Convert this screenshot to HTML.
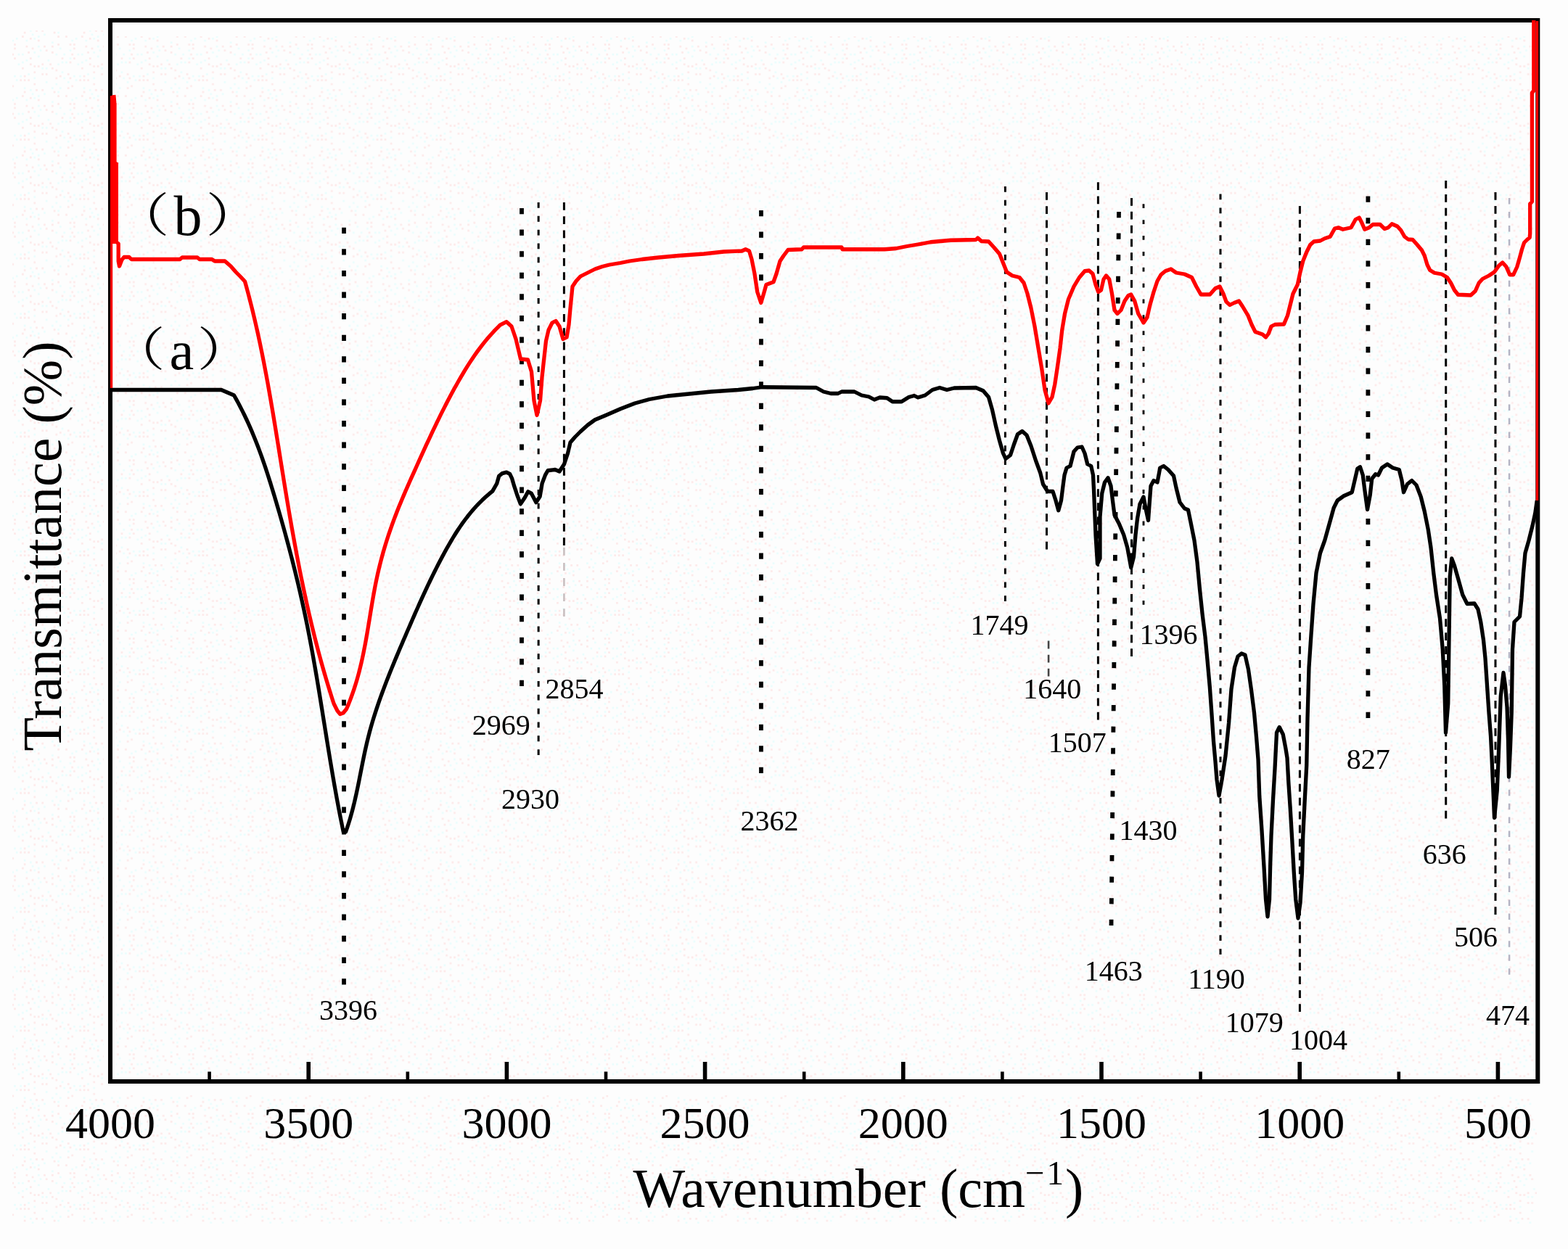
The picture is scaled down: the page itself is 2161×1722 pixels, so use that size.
<!DOCTYPE html>
<html lang="en"><head><meta charset="utf-8"><title>FTIR spectra</title>
<style>
html,body{margin:0;padding:0;background:#fdfdfd;}
body{width:2161px;height:1722px;overflow:hidden;}
svg{display:block;font-family:"Liberation Serif","Noto Serif CJK SC",serif;fill:#000;}
.pk{font-size:40px;text-anchor:middle;}
.tk{font-size:62px;text-anchor:middle;}
.ax{font-size:76px;text-anchor:middle;}
.lb{font-size:76px;}
</style></head><body>
<svg width="2161" height="1722" viewBox="0 0 2161 1722">
<rect x="0" y="0" width="2161" height="1722" fill="#fdfdfd"/>
<defs><pattern id="dz" width="81.90" height="81.90" patternUnits="userSpaceOnUse"><rect x="40.95" y="40.95" width="2.73" height="2.73" fill="#e9fdfd"/><rect x="49.14" y="40.95" width="2.73" height="2.73" fill="#fde9e9"/><rect x="76.44" y="73.71" width="2.73" height="2.73" fill="#e9fdfd"/><rect x="76.44" y="24.57" width="2.73" height="2.73" fill="#fde9e9"/><rect x="40.95" y="79.17" width="2.73" height="2.73" fill="#fde9e9"/><rect x="0.00" y="65.52" width="2.73" height="2.73" fill="#e9fdfd"/><rect x="79.17" y="43.68" width="2.73" height="2.73" fill="#e9fdfd"/><rect x="16.38" y="73.71" width="2.73" height="2.73" fill="#fde9e9"/><rect x="46.41" y="32.76" width="2.73" height="2.73" fill="#fde9e9"/><rect x="13.65" y="68.25" width="2.73" height="2.73" fill="#e9fdfd"/><rect x="46.41" y="51.87" width="2.73" height="2.73" fill="#e9fdfd"/><rect x="60.06" y="46.41" width="2.73" height="2.73" fill="#e9fdfd"/><rect x="68.25" y="5.46" width="2.73" height="2.73" fill="#fde9e9"/><rect x="10.92" y="38.22" width="2.73" height="2.73" fill="#fde9e9"/><rect x="5.46" y="24.57" width="2.73" height="2.73" fill="#e9fdfd"/><rect x="62.79" y="30.03" width="2.73" height="2.73" fill="#e9fdfd"/><rect x="16.38" y="54.60" width="2.73" height="2.73" fill="#e9fdfd"/><rect x="70.98" y="70.98" width="2.73" height="2.73" fill="#fde9e9"/><rect x="13.65" y="24.57" width="2.73" height="2.73" fill="#fde9e9"/><rect x="24.57" y="5.46" width="2.73" height="2.73" fill="#e9fdfd"/><rect x="62.79" y="68.25" width="2.73" height="2.73" fill="#fde9e9"/><rect x="35.49" y="62.79" width="2.73" height="2.73" fill="#fde9e9"/><rect x="51.87" y="62.79" width="2.73" height="2.73" fill="#e9fdfd"/><rect x="46.41" y="16.38" width="2.73" height="2.73" fill="#fde9e9"/><rect x="27.30" y="21.84" width="2.73" height="2.73" fill="#e9fdfd"/><rect x="5.46" y="73.71" width="2.73" height="2.73" fill="#e9fdfd"/><rect x="76.44" y="32.76" width="2.73" height="2.73" fill="#e9fdfd"/><rect x="21.84" y="51.87" width="2.73" height="2.73" fill="#e9fdfd"/><rect x="51.87" y="8.19" width="2.73" height="2.73" fill="#fde9e9"/><rect x="57.33" y="10.92" width="2.73" height="2.73" fill="#e9fdfd"/><rect x="79.17" y="49.14" width="2.73" height="2.73" fill="#fde9e9"/><rect x="43.68" y="65.52" width="2.73" height="2.73" fill="#fde9e9"/><rect x="79.17" y="5.46" width="2.73" height="2.73" fill="#e9fdfd"/><rect x="38.22" y="70.98" width="2.73" height="2.73" fill="#fde9e9"/><rect x="35.49" y="54.60" width="2.73" height="2.73" fill="#e9fdfd"/><rect x="10.92" y="30.03" width="2.73" height="2.73" fill="#e9fdfd"/><rect x="62.79" y="10.92" width="2.73" height="2.73" fill="#e9fdfd"/><rect x="70.98" y="57.33" width="2.73" height="2.73" fill="#e9fdfd"/><rect x="19.11" y="65.52" width="2.73" height="2.73" fill="#fde9e9"/><rect x="13.65" y="79.17" width="2.73" height="2.73" fill="#e9fdfd"/><rect x="32.76" y="43.68" width="2.73" height="2.73" fill="#fde9e9"/><rect x="70.98" y="10.92" width="2.73" height="2.73" fill="#fde9e9"/><rect x="70.98" y="38.22" width="2.73" height="2.73" fill="#e9fdfd"/><rect x="57.33" y="40.95" width="2.73" height="2.73" fill="#fde9e9"/><rect x="32.76" y="21.84" width="2.73" height="2.73" fill="#fde9e9"/><rect x="38.22" y="19.11" width="2.73" height="2.73" fill="#e9fdfd"/><rect x="10.92" y="19.11" width="2.73" height="2.73" fill="#fde9e9"/><rect x="24.57" y="73.71" width="2.73" height="2.73" fill="#e9fdfd"/><rect x="43.68" y="46.41" width="2.73" height="2.73" fill="#e9fdfd"/><rect x="70.98" y="62.79" width="2.73" height="2.73" fill="#fde9e9"/><rect x="27.30" y="27.30" width="2.73" height="2.73" fill="#fde9e9"/><rect x="30.03" y="73.71" width="2.73" height="2.73" fill="#e9fdfd"/><rect x="0.00" y="21.84" width="2.73" height="2.73" fill="#fde9e9"/><rect x="65.52" y="0.00" width="2.73" height="2.73" fill="#e9fdfd"/><rect x="21.84" y="27.30" width="2.73" height="2.73" fill="#e9fdfd"/><rect x="57.33" y="19.11" width="2.73" height="2.73" fill="#fde9e9"/><rect x="8.19" y="49.14" width="2.73" height="2.73" fill="#fde9e9"/><rect x="2.73" y="2.73" width="2.73" height="2.73" fill="#e9fdfd"/><rect x="19.11" y="79.17" width="2.73" height="2.73" fill="#fde9e9"/><rect x="57.33" y="5.46" width="2.73" height="2.73" fill="#fde9e9"/><rect x="35.49" y="0.00" width="2.73" height="2.73" fill="#e9fdfd"/><rect x="0.00" y="38.22" width="2.73" height="2.73" fill="#e9fdfd"/><rect x="13.65" y="2.73" width="2.73" height="2.73" fill="#fde9e9"/><rect x="19.11" y="60.06" width="2.73" height="2.73" fill="#fde9e9"/><rect x="40.95" y="5.46" width="2.73" height="2.73" fill="#fde9e9"/><rect x="30.03" y="10.92" width="2.73" height="2.73" fill="#fde9e9"/><rect x="73.71" y="43.68" width="2.73" height="2.73" fill="#fde9e9"/><rect x="32.76" y="38.22" width="2.73" height="2.73" fill="#e9fdfd"/><rect x="19.11" y="21.84" width="2.73" height="2.73" fill="#e9fdfd"/><rect x="30.03" y="49.14" width="2.73" height="2.73" fill="#fde9e9"/><rect x="76.44" y="13.65" width="2.73" height="2.73" fill="#fde9e9"/><rect x="62.79" y="19.11" width="2.73" height="2.73" fill="#fde9e9"/><rect x="51.87" y="54.60" width="2.73" height="2.73" fill="#fde9e9"/><rect x="30.03" y="2.73" width="2.73" height="2.73" fill="#e9fdfd"/><rect x="16.38" y="35.49" width="2.73" height="2.73" fill="#fde9e9"/><rect x="40.95" y="51.87" width="2.73" height="2.73" fill="#fde9e9"/><rect x="46.41" y="8.19" width="2.73" height="2.73" fill="#fde9e9"/><rect x="54.60" y="68.25" width="2.73" height="2.73" fill="#e9fdfd"/><rect x="38.22" y="27.30" width="2.73" height="2.73" fill="#fde9e9"/><rect x="13.65" y="60.06" width="2.73" height="2.73" fill="#fde9e9"/><rect x="32.76" y="27.30" width="2.73" height="2.73" fill="#fde9e9"/><rect x="46.41" y="70.98" width="2.73" height="2.73" fill="#e9fdfd"/><rect x="79.17" y="60.06" width="2.73" height="2.73" fill="#fde9e9"/><rect x="2.73" y="16.38" width="2.73" height="2.73" fill="#e9fdfd"/><rect x="46.41" y="24.57" width="2.73" height="2.73" fill="#e9fdfd"/><rect x="51.87" y="76.44" width="2.73" height="2.73" fill="#e9fdfd"/><rect x="2.73" y="79.17" width="2.73" height="2.73" fill="#fde9e9"/><rect x="8.19" y="2.73" width="2.73" height="2.73" fill="#e9fdfd"/><rect x="60.06" y="62.79" width="2.73" height="2.73" fill="#fde9e9"/><rect x="51.87" y="49.14" width="2.73" height="2.73" fill="#e9fdfd"/></pattern></defs>
<path d="M17 42H143V1687H17ZM160 50H2114V1485H160ZM143 1510H2118V1687H143Z" fill="url(#dz)"/>
<g fill="none" stroke="#000">
<rect x="152" y="28" width="1967.3" height="1463" stroke-width="6"/>
<line x1="152.0" y1="1464" x2="152.0" y2="1489" stroke-width="5.6"/>
<line x1="288.6" y1="1477.5" x2="288.6" y2="1489" stroke-width="4.6"/>
<line x1="425.2" y1="1464" x2="425.2" y2="1489" stroke-width="5.6"/>
<line x1="561.8" y1="1477.5" x2="561.8" y2="1489" stroke-width="4.6"/>
<line x1="698.4" y1="1464" x2="698.4" y2="1489" stroke-width="5.6"/>
<line x1="835.0" y1="1477.5" x2="835.0" y2="1489" stroke-width="4.6"/>
<line x1="971.6" y1="1464" x2="971.6" y2="1489" stroke-width="5.6"/>
<line x1="1108.2" y1="1477.5" x2="1108.2" y2="1489" stroke-width="4.6"/>
<line x1="1244.8" y1="1464" x2="1244.8" y2="1489" stroke-width="5.6"/>
<line x1="1381.4" y1="1477.5" x2="1381.4" y2="1489" stroke-width="4.6"/>
<line x1="1518.0" y1="1464" x2="1518.0" y2="1489" stroke-width="5.6"/>
<line x1="1654.6" y1="1477.5" x2="1654.6" y2="1489" stroke-width="4.6"/>
<line x1="1791.2" y1="1464" x2="1791.2" y2="1489" stroke-width="5.6"/>
<line x1="1927.8" y1="1477.5" x2="1927.8" y2="1489" stroke-width="4.6"/>
<line x1="2064.4" y1="1464" x2="2064.4" y2="1489" stroke-width="5.6"/>
</g>
<g fill="none">
<line x1="742.15" y1="279.00" x2="742.15" y2="1041.00" stroke="#000" stroke-width="3" stroke-dasharray="7.8 11.055"/>
<line x1="777.4" y1="279.00" x2="777.4" y2="752.00" stroke="#000" stroke-width="3" stroke-dasharray="10.8 8.458"/>
<line x1="777.4" y1="755.00" x2="777.4" y2="850.00" stroke="#c9bfc0" stroke-width="2.6" stroke-dasharray="10.8 10.250"/>
<line x1="1385.4" y1="257.00" x2="1385.4" y2="829.00" stroke="#000" stroke-width="3" stroke-dasharray="7.8 11.007"/>
<line x1="1442.5" y1="265.00" x2="1442.5" y2="757.50" stroke="#000" stroke-width="3" stroke-dasharray="10.8 8.468"/>
<line x1="1445.1" y1="883.60" x2="1445.1" y2="932.50" stroke="#444" stroke-width="2.6" stroke-dasharray="10.8 8.250"/>
<line x1="1513.4" y1="251.25" x2="1513.4" y2="992.50" stroke="#000" stroke-width="3" stroke-dasharray="10.8 8.422"/>
<line x1="1559.5" y1="273.00" x2="1559.5" y2="905.00" stroke="#000" stroke-width="3" stroke-dasharray="10.8 8.024"/>
<line x1="1576" y1="281.30" x2="1576" y2="833.75" stroke="#000" stroke-width="2.8" stroke-dasharray="5.8 16.066"/>
<line x1="1682" y1="267.50" x2="1682" y2="1316.00" stroke="#000" stroke-width="3" stroke-dasharray="7.8 11.122"/>
<line x1="1791.4" y1="284.00" x2="1791.4" y2="1395.00" stroke="#000" stroke-width="3" stroke-dasharray="10.8 8.169"/>
<line x1="1992.7" y1="249.00" x2="1992.7" y2="1128.50" stroke="#000" stroke-width="3" stroke-dasharray="10.8 8.085"/>
<line x1="2061" y1="265.00" x2="2061" y2="1261.00" stroke="#000" stroke-width="3" stroke-dasharray="10.8 8.146"/>
<line x1="2080.1" y1="273.00" x2="2080.1" y2="1343.75" stroke="#b4b4c4" stroke-width="2.5" stroke-dasharray="8.5 10.469"/>
<line x1="474" y1="313.75" x2="474" y2="1357.50" stroke="#000" stroke-width="5.8" stroke-dasharray="8.2 21.387"/>
<line x1="719" y1="287.00" x2="719" y2="946.00" stroke="#000" stroke-width="5.8" stroke-dasharray="8.2 21.382"/>
<line x1="1049" y1="290.00" x2="1049" y2="1066.00" stroke="#000" stroke-width="5.8" stroke-dasharray="8.2 21.331"/>
<line x1="1542" y1="292.00" x2="1531.5" y2="1276.00" stroke="#000" stroke-width="5.8" stroke-dasharray="8.2 21.370"/>
<line x1="1885.4" y1="270.50" x2="1885.4" y2="990.00" stroke="#000" stroke-width="5.8" stroke-dasharray="8.2 21.438"/>
</g>
<g fill="none" stroke-linejoin="round" stroke-linecap="butt">
<polyline stroke="#000" stroke-width="5.3" points="152,537.5 290,537.5 305,537.5 322.5,545 325.52,550.38 328.46,555.77 331.3,561.18 334.06,566.6 336.74,572.04 339.34,577.49 341.86,582.95 344.31,588.43 346.7,593.93 349.01,599.43 351.27,604.96 353.46,610.49 355.6,616.04 357.69,621.6 359.73,627.17 361.72,632.75 363.66,638.35 365.57,643.96 367.44,649.58 369.28,655.21 371.08,660.86 372.86,666.51 374.62,672.18 376.36,677.85 378.07,683.54 379.78,689.23 381.47,694.94 383.15,700.66 384.81,706.38 386.46,712.12 388.1,717.86 389.72,723.62 391.33,729.38 392.93,735.15 394.51,740.93 396.07,746.72 397.62,752.51 399.16,758.31 400.67,764.12 402.17,769.94 403.66,775.76 405.12,781.6 406.57,787.43 408,793.28 409.42,799.13 410.81,804.98 412.19,810.85 413.54,816.71 414.88,822.59 416.2,828.46 417.5,834.35 418.78,840.23 420.03,846.12 421.27,852.02 422.49,857.92 423.68,863.82 424.85,869.73 426.01,875.64 427.14,881.56 428.26,887.47 429.36,893.39 430.45,899.32 431.52,905.24 432.57,911.17 433.61,917.1 434.64,923.03 435.66,928.96 436.67,934.89 437.66,940.82 438.65,946.76 439.63,952.69 440.61,958.63 441.58,964.57 442.54,970.5 443.5,976.44 444.45,982.37 445.4,988.31 446.35,994.24 447.3,1000.17 448.25,1006.1 449.2,1012.03 450.15,1017.96 451.11,1023.89 452.07,1029.81 453.03,1035.73 454,1041.65 454.97,1047.57 455.96,1053.48 456.95,1059.39 457.95,1065.3 458.96,1071.2 459.98,1077.1 461.01,1082.99 462.06,1088.88 463.11,1094.77 464.19,1100.65 465.28,1106.52 466.38,1112.4 467.5,1118.26 468.64,1124.12 469.8,1129.97 470.98,1135.82 472.18,1141.66 473.4,1147.5 476.5,1147 478.53,1141.13 480.44,1135.27 482.23,1129.41 483.92,1123.56 485.51,1117.71 487.01,1111.87 488.43,1106.03 489.79,1100.2 491.09,1094.37 492.34,1088.55 493.54,1082.73 494.72,1076.92 495.87,1071.11 497.02,1065.3 498.16,1059.51 499.3,1053.71 500.46,1047.92 501.65,1042.14 502.87,1036.36 504.14,1030.59 505.45,1024.82 506.83,1019.06 508.29,1013.3 509.81,1007.55 511.41,1001.8 513.08,996.06 514.81,990.32 516.6,984.59 518.46,978.86 520.37,973.14 522.33,967.42 524.35,961.71 526.41,956.01 528.52,950.31 530.67,944.61 532.86,938.92 535.08,933.24 537.34,927.56 539.63,921.88 541.94,916.21 544.28,910.55 546.64,904.89 549.02,899.24 551.41,893.59 553.82,887.95 556.24,882.31 558.66,876.68 561.08,871.05 563.51,865.43 565.95,859.82 568.39,854.22 570.84,848.62 573.3,843.04 575.78,837.48 578.26,831.93 580.76,826.39 583.28,820.87 585.82,815.38 588.38,809.9 590.97,804.44 593.57,799.01 596.2,793.61 598.87,788.23 601.56,782.87 604.28,777.55 607.03,772.26 609.82,767 612.64,761.78 615.51,756.59 618.41,751.44 621.38,746.33 624.4,741.26 627.49,736.25 630.67,731.28 633.94,726.37 637.32,721.52 640.8,716.74 644.41,712.02 648.14,707.37 652.02,702.79 656.05,698.3 660.24,693.88 664.6,689.55 669.14,685.31 673.87,681.15 678.8,677.1 684.7,666.7 687.7,656.3 692.2,652.6 698.1,651.1 702.6,653.4 705.5,659.3 708.5,669.7 712.9,683 717.4,694.9 723.3,686 727.8,677.8 732.2,680.1 738.9,692.7 744.1,684.5 747.1,666.7 751.5,654.8 755,648.75 765,647.5 771,650 777.5,640 782.5,625 786,610 792.5,602.5 800,595 810,586 820,578.75 835,572.5 855,563.75 875,556 895,550.5 920,546 955,542.5 980,540 1017.5,537.5 1037.5,535.5 1050,533.75 1125,534.5 1135,540 1145,542.5 1155,542.5 1160,540 1177.5,540 1187.5,545 1197.5,547 1205,551 1212.5,548 1222.5,548.75 1230,553.75 1242.5,553.75 1252.5,547.5 1260,545.5 1265,548 1275,545 1285,537.5 1295,534.5 1305,537.5 1315,535 1345,534.5 1355,538.75 1362.5,547.5 1367.5,565 1372.5,587.5 1377.5,607.5 1382.5,625 1386,632.5 1392.5,627.5 1397.5,612.5 1402.5,598.75 1408.75,594.5 1415,600 1421,615 1427.5,635 1433.75,652 1437.5,667.5 1443.75,677.5 1451,677.5 1455,690 1458.75,703.75 1462.5,690 1465,670 1467,655 1470,645 1475,642.5 1480,622.5 1485,617 1491,616 1495,625 1498.75,640 1503.75,642.5 1506.5,655 1507.5,675 1510,737.5 1512.5,777.5 1516,770 1516,712.5 1518.75,680 1522.5,665 1527,658.75 1531,670 1533.75,692.5 1536,710 1542.5,722.5 1548.75,737.5 1553.75,755 1558.75,782.5 1562.5,767.5 1565,737.5 1567.5,715 1571,695 1576,685 1578.75,700 1582.5,717.5 1583.75,700 1586,670 1590,662.5 1595,665 1597.5,652 1598.75,645 1603.75,642.5 1610,647.5 1617.5,656 1621,672.5 1626,692.5 1632.5,701 1637.5,703 1641,720 1646,745 1650,775 1653.5,812.5 1657.25,848 1661,878 1664,910 1667.3,947 1670,985 1672.5,1022 1675,1050 1677,1075 1680,1097 1684,1075 1689,1042 1693.5,997 1697,950 1701.5,920 1706,905 1711,901 1716,903 1720.5,923 1724.5,951 1728.5,982.5 1731.5,1016 1734,1047 1735.75,1097.5 1739,1145 1742,1195 1744.5,1240 1747,1263.75 1749.5,1240 1750.75,1190 1752,1152.5 1754.5,1102.5 1757,1060 1758,1040 1759.5,1010 1763.25,1002.5 1768.25,1012.5 1772,1032.5 1774,1045 1775.75,1077.5 1778.25,1115 1780.75,1157.5 1783.25,1202.5 1785.75,1240 1789,1266 1792,1245 1794.5,1202.5 1795.75,1152.5 1798.25,1102.5 1800.75,1055 1802,990 1804,920 1807,875 1810,832.5 1814,790 1819.5,762.5 1825.75,745 1832,722.5 1838.25,700 1843.25,690 1852,683.75 1863.25,678.75 1867,662.5 1870.75,646.25 1874.5,643.75 1878.25,655 1880.75,675 1884.5,702.5 1888.25,682.5 1890.75,660 1895.75,653.75 1899.5,655 1904.5,645 1912,640 1919.5,645 1928.25,647.5 1932,662.5 1934.5,678.75 1939.5,667.5 1945.75,662.5 1952,668.75 1958.25,685 1963.25,705 1968.25,730 1972,755 1975.75,790 1979.5,820 1984.5,852.5 1988.25,895 1990.75,945 1992.5,1010 1995.75,970 1997,882.5 1998.25,795 2000.75,770 2004.5,780 2009.5,797.5 2015.75,820 2022,832.5 2032,832 2037,840 2040.75,857.5 2044.5,882.5 2047,907.5 2049.5,945 2052,982.5 2054.5,1015 2056,1045 2057.5,1080 2059.5,1127.5 2063.25,1090 2065.75,1030 2068.25,960 2072,927.5 2074.5,945 2077,975 2078.5,1020 2079.5,1071 2081.5,1030 2083.25,982.5 2084.5,895 2087,857.5 2094.5,850 2097,825 2099.5,790 2102,762.5 2107,745 2112,725 2115.75,707.5 2118.25,690"/>
<polyline stroke="#f00" stroke-width="5.3" points="156.8,131 157.7,141 157.7,224 160.2,226 160.2,333 163.2,336 163.2,360 164.5,367 168,358 171,354.5 178,354.5 181,357.5 248,357.5 251,355 272,355 275,357.5 292,357.5 296,360 310,360 318,367 325,375 331,381 337.5,388 339.12,393.79 340.7,399.6 342.25,405.4 343.78,411.22 345.27,417.04 346.73,422.86 348.17,428.7 349.58,434.54 350.96,440.38 352.31,446.23 353.64,452.08 354.95,457.94 356.23,463.81 357.49,469.68 358.73,475.55 359.95,481.43 361.15,487.31 362.32,493.2 363.48,499.09 364.62,504.99 365.75,510.89 366.86,516.79 367.95,522.69 369.03,528.6 370.09,534.52 371.15,540.43 372.18,546.35 373.21,552.27 374.23,558.2 375.24,564.12 376.24,570.05 377.23,575.98 378.21,581.91 379.19,587.85 380.16,593.78 381.12,599.72 382.08,605.66 383.04,611.6 384,617.54 384.95,623.48 385.9,629.42 386.85,635.36 387.81,641.31 388.76,647.25 389.72,653.19 390.68,659.14 391.64,665.08 392.61,671.02 393.58,676.96 394.56,682.91 395.55,688.85 396.54,694.79 397.54,700.73 398.55,706.66 399.57,712.6 400.6,718.53 401.63,724.46 402.68,730.39 403.74,736.32 404.81,742.25 405.89,748.17 406.98,754.09 408.09,760.01 409.21,765.93 410.34,771.84 411.48,777.75 412.64,783.66 413.81,789.56 415,795.46 416.21,801.35 417.43,807.25 418.67,813.13 419.92,819.02 421.19,824.9 422.48,830.77 423.79,836.64 425.12,842.51 426.46,848.37 427.83,854.22 429.22,860.07 430.62,865.91 432.05,871.75 433.5,877.58 434.97,883.41 436.47,889.23 437.98,895.05 439.52,900.85 441.09,906.66 442.68,912.45 444.29,918.24 445.93,924.02 447.59,929.79 449.28,935.56 451,941.32 452.74,947.07 454.52,952.82 456.31,958.55 458.14,964.28 460,970 465,980 468.75,984.5 473,983 477.5,977.5 479.97,971.69 482.3,965.87 484.49,960.05 486.56,954.23 488.51,948.4 490.35,942.57 492.08,936.74 493.72,930.9 495.26,925.06 496.71,919.22 498.09,913.38 499.39,907.54 500.63,901.7 501.81,895.85 502.94,890.01 504.02,884.16 505.07,878.32 506.08,872.48 507.06,866.63 508.03,860.79 508.99,854.96 509.94,849.12 510.89,843.28 511.85,837.45 512.82,831.62 513.82,825.8 514.85,819.97 515.9,814.16 517.01,808.34 518.15,802.53 519.36,796.73 520.63,790.93 521.96,785.13 523.36,779.35 524.83,773.56 526.36,767.79 527.96,762.02 529.63,756.26 531.36,750.5 533.15,744.76 535,739.02 536.92,733.29 538.9,727.57 540.94,721.85 543.03,716.15 545.19,710.46 547.4,704.77 549.67,699.1 551.98,693.43 554.34,687.78 556.74,682.14 559.16,676.51 561.62,670.89 564.09,665.29 566.58,659.7 569.08,654.12 571.59,648.55 574.09,643 576.6,637.46 579.1,631.93 581.6,626.42 584.11,620.92 586.62,615.44 589.15,609.98 591.68,604.53 594.22,599.1 596.78,593.68 599.35,588.29 601.94,582.91 604.55,577.54 607.18,572.2 609.84,566.88 612.52,561.57 615.23,556.29 617.97,551.02 620.74,545.78 623.55,540.56 626.39,535.35 629.27,530.17 632.19,525.02 635.16,519.88 638.17,514.78 641.24,509.7 644.37,504.66 647.57,499.65 650.85,494.69 654.21,489.77 657.65,484.9 661.2,480.09 664.84,475.33 668.59,470.64 672.46,466 676.44,461.44 680.56,456.95 684.81,452.53 689.2,448.2 698.1,443.7 705,450 711,467.5 717.5,495 727.5,496 732.5,512.5 736,552.5 740,572.5 744.5,552.5 747,520 750,492.5 752.5,470 756,455 761,445 766,442.5 771,450 776,467.5 781,465 784,447.5 786,425 789,395 794,387.5 800,381 810,376 820,371 830,367.5 840,365 855,362.5 867.5,360 885,357.5 907.5,355 935,352.5 970,350 997.5,347 1022.5,346 1027.5,343.75 1032.5,346 1036,357.5 1040,377.5 1043.75,402.5 1048.75,417.5 1052.5,405 1056,392.5 1066,388.75 1070,377.5 1075,360 1080,352.5 1086,344.5 1105,343.75 1107.5,341 1160,341 1161,343.75 1219,343.75 1235,342.5 1250,339.5 1265,337 1282.5,333.75 1310,331.25 1345,330.5 1347.5,328 1352.5,332.5 1362.5,333 1370,341.25 1377.5,350 1382.5,362.5 1387.5,375 1395,380 1405,382.5 1411,390 1416,405 1421,425 1426,450 1431,480 1436,510 1440,537.5 1445,556 1450,547.5 1453.75,530 1457.5,505 1461,480 1463.75,455 1467.5,432.5 1472.5,412.5 1480,395 1487.5,382.5 1495,373.75 1501,373 1506,377.5 1510,392.5 1513.75,402.5 1517.5,400 1521,385 1524.5,380 1528.75,385 1532.5,405 1536,427.5 1540,432.5 1545,427.5 1550,415 1555,407.5 1558.75,406 1563.75,415 1568.75,432.5 1576,445 1581,437.5 1585,420 1590,402.5 1595,387.5 1600,378.75 1606,373.75 1613.75,371 1621,376 1632.5,378 1642.5,382.5 1648.75,395 1655,406 1667.5,406 1675,397.5 1681,395 1686,405 1690,416 1695,420.5 1701,417.5 1707.5,415 1712.5,422.5 1720,435 1725,447.5 1730,457.5 1740,461 1744.5,465 1748.25,460 1752,450 1757,447.5 1769.5,447 1774.5,435 1778.25,420 1782,405 1788.25,392.5 1792,375 1795.75,360 1800.75,347.5 1805.75,337.5 1810.75,333 1819.5,332 1825.75,328.75 1833.25,326.25 1839.5,315 1844.5,313.75 1850.75,316.25 1862,313.75 1868.25,302.5 1873.25,300 1877,307.5 1880.75,316.25 1887,313.75 1892,309.5 1902,309.5 1908.25,315.5 1913.25,313.75 1918.25,308.75 1925.75,312 1930.75,317.5 1935.75,326.25 1940.75,330 1947,330.5 1953.25,337.5 1959.5,345 1963.25,352.5 1967,365 1970.75,372.5 1977,376.25 1987,378 1994.5,382.5 1999.5,390 2004.5,400 2009.5,406.25 2027,407 2033.25,401.25 2038.25,390 2043.25,384.5 2052,380 2059.5,375 2065.75,366.25 2070.75,362 2075.75,367.5 2080.75,378.75 2085.75,378.75 2090.75,368 2094.5,355 2097.6,343.5 2100.6,334.5 2104.6,330.5 2108.2,327.5 2108.7,322 2108.7,281 2111.4,278 2111.4,128 2113.8,125 2113.8,28"/>
<line x1="153.6" y1="132" x2="153.6" y2="535" stroke="#f00" stroke-width="3.2"/>
<path d="M152 132H157.9V142H160.4V224H163V336H152Z" fill="#f00" stroke="none"/>
<line x1="2118.5" y1="29" x2="2118.5" y2="690" stroke="#f00" stroke-width="3.4"/>
</g>
<text class="pk" x="480.0" y="1406">3396</text>
<text class="pk" x="690.8" y="1013">2969</text>
<text class="pk" x="791.5" y="962.5">2854</text>
<text class="pk" x="731.0" y="1115">2930</text>
<text class="pk" x="1060.5" y="1145">2362</text>
<text class="pk" x="1377.4" y="875">1749</text>
<text class="pk" x="1450.2" y="962.5">1640</text>
<text class="pk" x="1610.4" y="887.5">1396</text>
<text class="pk" x="1484.8" y="1037">1507</text>
<text class="pk" x="1582.4" y="1158">1430</text>
<text class="pk" x="1534.8" y="1352">1463</text>
<text class="pk" x="1676.5" y="1362.5">1190</text>
<text class="pk" x="1728.8" y="1422.5">1079</text>
<text class="pk" x="1816.9" y="1447">1004</text>
<text class="pk" x="1885.8" y="1060">827</text>
<text class="pk" x="1990.8" y="1191">636</text>
<text class="pk" x="2033.9" y="1305">506</text>
<text class="pk" x="2078.0" y="1412.5">474</text>
<text class="tk" x="152.0" y="1569">4000</text>
<text class="tk" x="425.2" y="1569">3500</text>
<text class="tk" x="698.4" y="1569">3000</text>
<text class="tk" x="971.6" y="1569">2500</text>
<text class="tk" x="1244.8" y="1569">2000</text>
<text class="tk" x="1518.0" y="1569">1500</text>
<text class="tk" x="1791.2" y="1569">1000</text>
<text class="tk" x="2064.4" y="1569">500</text>
<text class="ax" x="1183" y="1664">Wavenumber (cm<tspan font-size="47" dy="-31">−</tspan><tspan font-size="47" dx="3">1</tspan><tspan dy="31" dx="2">)</tspan></text>
<text class="ax" transform="translate(84,753) rotate(-90)" x="0" y="0">Transmittance (%)</text>
<g>
<text font-size="64" transform="translate(157.7,319.2) scale(1.18,1)">（</text>
<text font-size="78" x="239.4" y="324.2">b</text>
<text font-size="64" transform="translate(283.7,319.2) scale(1.18,1)">）</text>
</g>
<g>
<text font-size="64" transform="translate(152.1,504.2) scale(1.18,1)">（</text>
<text font-size="76" x="233.6" y="509.2">a</text>
<text font-size="64" transform="translate(271.8,504.2) scale(1.18,1)">）</text>
</g>
</svg></body></html>
